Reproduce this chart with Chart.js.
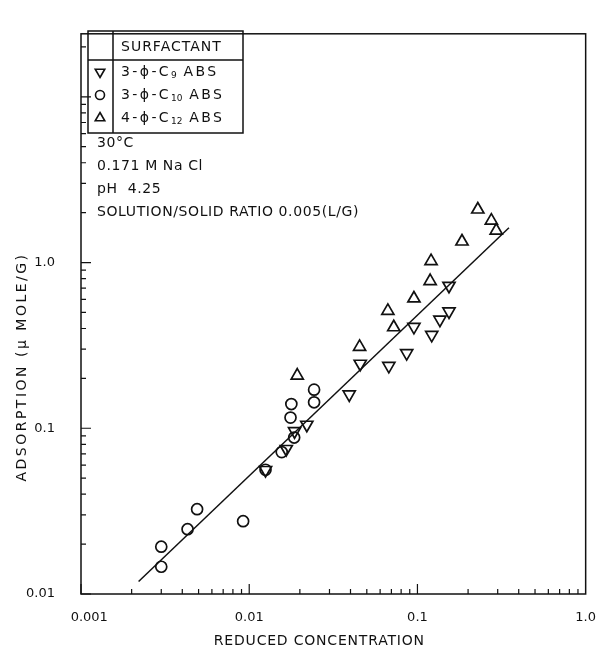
<!DOCTYPE html>
<html><head><meta charset="utf-8">
<script src="https://cdn.jsdelivr.net/npm/chart.js@4"></script>
<style>html,body{margin:0;padding:0;background:#fff}</style>
</head><body>
<canvas id="c" width="612" height="649" style="width:612px;height:649px;display:block"></canvas>
<script>
// ---- data ----
const c9X  = [0.0125, 0.0166, 0.0186, 0.0220, 0.0393, 0.0457, 0.0676, 0.0863, 0.1216, 0.0953, 0.136, 0.154, 0.154];
const c9Y  = [0.056, 0.075, 0.096, 0.105, 0.160, 0.245, 0.238, 0.284, 0.366, 0.409, 0.452, 0.507, 0.724];
const c10X = [0.0030, 0.0030, 0.0043, 0.0049, 0.0092, 0.0125, 0.0156, 0.0185, 0.0176, 0.0178, 0.0243, 0.0243];
const c10Y = [0.0146, 0.0193, 0.0246, 0.0325, 0.0275, 0.0562, 0.0718, 0.0879, 0.116, 0.140, 0.1435, 0.171];
const c12X = [0.2285, 0.275, 0.294, 0.184, 0.1205, 0.119, 0.0953, 0.0667, 0.0723, 0.0453, 0.0193];
const c12Y = [2.09, 1.79, 1.56, 1.34, 1.02, 0.773, 0.607, 0.511, 0.407, 0.310, 0.208];
const fitX = [0.0022, 0.35];
const fitY = [0.0119, 1.62];
const xTickVals = [0.001, 0.01, 0.1, 1];
const xTickLabels = ['\u2007\u20070.001', '0.01', '0.1', '1.0'];
const yTickVals = [0.01, 0.1, 1];
const yTickLabels = ['0.01', '0.1', '1.0'];
const seriesNames = ['C9', 'C10', 'C12'];
const notes = ['30°C', '0.171 M Na Cl', 'pH  4.25', 'SOLUTION/SOLID RATIO 0.005(L/G)'];
const xTitle = 'REDUCED CONCENTRATION';
const yTitle = 'ADSORPTION (\u03BC MOLE/G)';

const pts = (xs, ys) => xs.map((x, i) => ({x, y: ys[i]}));
const FONT = '"DejaVu Sans", sans-serif';
const INK = '#111';

function drawMarker(ctx, kind, x, y, r) {
  ctx.save();
  ctx.strokeStyle = INK; ctx.lineWidth = 1.6;
  ctx.beginPath();
  if (kind === 'circle') { ctx.arc(x, y, r, 0, Math.PI * 2); }
  else {
    const s = kind === 'down' ? -1 : 1;
    ctx.moveTo(x, y - s * r);
    ctx.lineTo(x + r * 0.866, y + s * r * 0.5);
    ctx.lineTo(x - r * 0.866, y + s * r * 0.5);
    ctx.closePath();
  }
  ctx.stroke();
  ctx.restore();
}

function spaced(ctx, text, x, y, size, ls) {
  ctx.font = size + 'px ' + FONT;
  ctx.letterSpacing = ls + 'px';
  ctx.fillText(text, x, y);
  const w = ctx.measureText(text).width;
  ctx.letterSpacing = '0px';
  return w;
}

const framePlugin = {
  id: 'frame',
  afterDraw(chart) {
    const {ctx, chartArea: a, scales: {x, y}} = chart;
    ctx.save();
    ctx.strokeStyle = INK; ctx.lineWidth = 1.5;
    ctx.strokeRect(a.left, a.top, a.right - a.left, a.bottom - a.top);
    // inward ticks
    ctx.lineWidth = 1.2;
    ctx.beginPath();
    for (let d = -3; d <= -1; d++) for (let m = 1; m <= 9; m++) {
      const v = m * Math.pow(10, d);
      const px = x.getPixelForValue(v);
      const len = m === 1 ? 10 : 5;
      ctx.moveTo(px, a.bottom); ctx.lineTo(px, a.bottom - len);
    }
    for (let d = -2; d <= 1; d++) for (let m = 1; m <= 9; m++) {
      const v = m * Math.pow(10, d);
      if (v > y.max) continue;
      const py = y.getPixelForValue(v);
      const len = m === 1 ? 10 : 5;
      ctx.moveTo(a.left, py); ctx.lineTo(a.left + len, py);
    }
    ctx.stroke();

    ctx.fillStyle = INK;
    ctx.textBaseline = 'middle';
    // x title
    ctx.textAlign = 'center';
    spaced(ctx, xTitle, (a.left + a.right) / 2 - 14, 641, 14, 0.8);
    // y title
    ctx.save();
    ctx.translate(22, 367);
    ctx.rotate(-Math.PI / 2);
    spaced(ctx, yTitle, 0, 0, 14, 2.5);
    ctx.restore();

    // legend table
    const L = 88, R = 243, T = 31, B = 133, D = 113, H = 60;
    ctx.lineWidth = 1.5;
    ctx.strokeRect(L, T, R - L, B - T);
    ctx.beginPath();
    ctx.moveTo(D, T); ctx.lineTo(D, B);
    ctx.moveTo(L, H); ctx.lineTo(R, H);
    ctx.stroke();
    ctx.textAlign = 'left';
    spaced(ctx, 'SURFACTANT', 121, 47, 14, 1);
    const rows = [
      {kind: 'down', pre: '3-\u03D5-C', sub: '9', y: 72},
      {kind: 'circle', pre: '3-\u03D5-C', sub: '10', y: 95},
      {kind: 'up', pre: '4-\u03D5-C', sub: '12', y: 118}
    ];
    rows.forEach(r => {
      drawMarker(ctx, r.kind, 100, r.y, r.kind === 'circle' ? 4.5 : 5.5);
      let w = spaced(ctx, r.pre, 121, r.y, 14, 2.4);
      w += spaced(ctx, r.sub, 121 + w, r.y + 4, 9, 0);
      spaced(ctx, ' ABS', 121 + w, r.y, 14, 2.4);
    });
    // notes
    const ny = [143, 166, 189, 212];
    notes.forEach((t, i) => spaced(ctx, t, 97, ny[i], 14, 0.6));
    ctx.restore();
  }
};

const ds = (label, data, style, rot, r) => ({
  type: 'scatter', label, data, pointStyle: style, rotation: rot,
  pointRadius: r, pointHoverRadius: r, borderColor: INK, backgroundColor: 'rgba(0,0,0,0)',
  pointBorderWidth: 1.7, borderWidth: 1.7
});

new Chart(document.getElementById('c'), {
  data: {
    datasets: [
      {type: 'line', label: 'fit', data: pts(fitX, fitY), borderColor: INK, borderWidth: 1.5, pointRadius: 0, fill: false},
      ds(seriesNames[0], pts(c9X, c9Y), 'triangle', 180, 7),
      ds(seriesNames[1], pts(c10X, c10Y), 'circle', 0, 5.5),
      ds(seriesNames[2], pts(c12X, c12Y), 'triangle', 0, 7)
    ]
  },
  options: {
    responsive: false, animation: false, devicePixelRatio: 1,
    layout: {padding: {top: 13, right: 14, left: 0, bottom: 0}},
    plugins: {legend: {display: false}, tooltip: {enabled: false}},
    scales: {
      x: {
        type: 'logarithmic', position: 'bottom', min: 0.001, max: 1,
        afterBuildTicks: s => { s.ticks = xTickVals.map(v => ({value: v})); },
        afterFit: s => { s.height = 55; },
        ticks: {autoSkip: false, maxRotation: 0, padding: 16, color: INK, font: {family: FONT, size: 13},
          callback: (v) => { const i = xTickVals.findIndex(t => Math.abs(t - v) / t < 1e-6); return i >= 0 ? xTickLabels[i] : ''; }},
        grid: {display: false, drawTicks: false},
        border: {display: false}
      },
      y: {
        type: 'logarithmic', position: 'left', min: 0.01, max: 24,
        afterBuildTicks: s => { s.ticks = yTickVals.map(v => ({value: v})); },
        afterFit: s => { s.width = 81; },
        ticks: {autoSkip: false, padding: 26, color: INK, font: {family: FONT, size: 13},
          callback: (v) => { const i = yTickVals.findIndex(t => Math.abs(t - v) / t < 1e-6); return i >= 0 ? yTickLabels[i] : ''; }},
        grid: {display: false, drawTicks: false},
        border: {display: false}
      }
    }
  },
  plugins: [framePlugin]
});
</script>
</body></html>
